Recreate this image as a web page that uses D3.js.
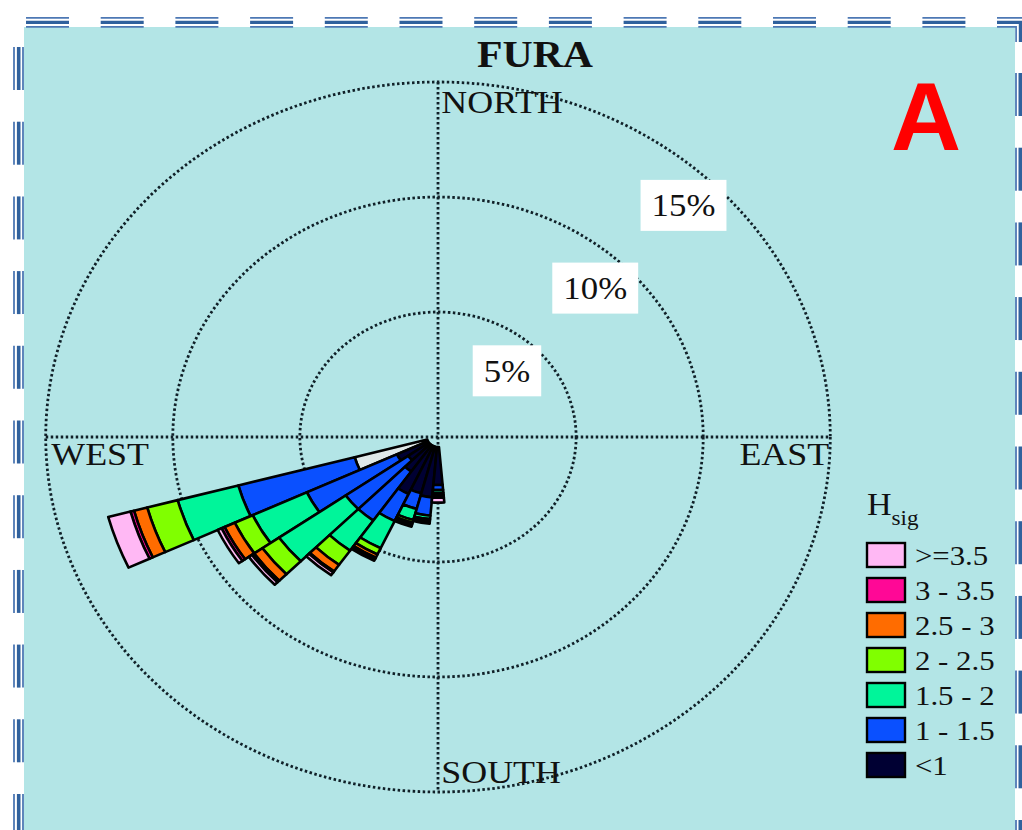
<!DOCTYPE html>
<html>
<head>
<meta charset="utf-8">
<script src="https://cdn.jsdelivr.net/npm/d3@7"></script>
<style>
  body { margin: 0; background: #fff; }
  svg { display: block; font-family: "Liberation Serif", "Times New Roman", serif; }
</style>
</head>
<body>
<svg id="chart" width="1022" height="830"></svg>
<script>
// Hsig rose for FURA, % of occurrence in 10 degree sectors (coming from)
var directions = [250, 240, 230, 220, 210, 200, 190, 180];

// one array per wave height class, innermost class first
var hsLt1   = [2.96, 1.35, 1.00, 1.40, 2.30, 2.10, 2.20, 1.65];
var hs1to15 = [4.74, 3.91, 3.00, 2.60, 1.30, 0.70, 0.80, 0.22];
var hs15to2 = [2.47, 2.35, 3.20, 1.60, 1.30, 0.50, 0.15, 0.13];
var hs2to25 = [1.24, 0.78, 0.80, 0.75, 0.30, 0.12, 0.07, 0.10];
var hs25to3 = [0.54, 0.44, 0.40, 0.35, 0.15, 0.08, 0.05, 0.05];
var hs3to35 = [0.14, 0.13, 0.10, 0.05, 0.05, 0.05, 0.03, 0.05];
var hsGe35  = [0.91, 0.17, 0.15, 0.15, 0.10, 0.05, 0.05, 0.22];

var classNames = ["<1", "1 - 1.5", "1.5 - 2", "2 - 2.5", "2.5 - 3", "3 - 3.5", ">=3.5"];
var classColors = ["#000033", "#0a50ff", "#00f59a", "#80ff00", "#ff6c00", "#ff0896", "#ffb8f4"];
var ringTicks = [5, 10, 15];
var compass = ["NORTH", "EAST", "SOUTH", "WEST"];

var series = [hsLt1, hs1to15, hs15to2, hs2to25, hs25to3, hs3to35, hsGe35];

var svg = d3.select("#chart");
var cx = 438, cy = 437, stretch = 1.105;
var r = d3.scaleLinear().domain([0, 15]).range([10, 355]);

// ---- page frame ----
svg.append("rect").attr("x", 24).attr("y", 27).attr("width", 991).attr("height", 820)
  .attr("fill", "#b3e5e6");

var frame = svg.append("g").attr("class", "frame");
var period = 74.7, dash = 43;
var hLines = [{o: 17.9, w: 1.7, c: "#4d78b4"}, {o: 22.4, w: 3.4, c: "#30619d"}, {o: 26.8, w: 1.7, c: "#4d78b4"}];
d3.range(13).forEach(function(k) {
  var x0 = 26 + period * k;
  hLines.forEach(function(l) {
    frame.append("line").attr("x1", x0).attr("x2", x0 + dash).attr("y1", l.o).attr("y2", l.o)
      .attr("stroke", l.c).attr("stroke-width", l.w);
  });
});
// top right corner piece
hLines.forEach(function(l) {
  var xr = 1025 - (l.o - 17.9);
  frame.append("polyline")
    .attr("points", [[997, l.o], [xr, l.o], [xr, 42]].join(" "))
    .attr("fill", "none").attr("stroke", l.c).attr("stroke-width", l.w);
});
var vLeft = [{o: 14, w: 1.8, c: "#4d78b4"}, {o: 18.7, w: 3.6, c: "#30619d"}, {o: 23, w: 1.8, c: "#4d78b4"}];
d3.range(11).forEach(function(k) {
  var y0 = 47 + period * k;
  vLeft.forEach(function(l) {
    frame.append("line").attr("x1", l.o).attr("x2", l.o).attr("y1", y0).attr("y2", y0 + dash)
      .attr("stroke", l.c).attr("stroke-width", l.w);
  });
  var y1 = 73 + period * k;
  vLeft.forEach(function(l) {
    var xo = 1039 - l.o;
    frame.append("line").attr("x1", xo).attr("x2", xo).attr("y1", y1).attr("y2", y1 + dash)
      .attr("stroke", l.c).attr("stroke-width", l.w);
  });
});

// ---- polar grid ----
var g = svg.append("g").attr("transform", "translate(" + cx + "," + cy + ") scale(" + stretch + ",1)");

var dotted = function(sel) {
  return sel.attr("fill", "none").attr("stroke", "#102028").attr("stroke-width", 2.8)
    .attr("stroke-dasharray", "2.5 2.5").attr("vector-effect", "non-scaling-stroke");
};

g.selectAll(".ring").data(ringTicks).enter().append("circle")
  .attr("class", "ring").attr("r", function(d) { return r(d); }).call(dotted);

g.append("line").attr("x1", -r(15)).attr("x2", r(15)).attr("y1", 0).attr("y2", 0).call(dotted);
g.append("line").attr("x1", 0).attr("x2", 0).attr("y1", -r(15)).attr("y2", r(15) - 2).call(dotted);

// percentage labels in white boxes
var tickAng = 44 * Math.PI / 180;
var tickG = g.selectAll(".tick").data(ringTicks).enter().append("g")
  .attr("class", "tick")
  .attr("transform", function(d) {
    var rr = r(d) - 33;
    return "translate(" + (rr * Math.sin(tickAng) - 1.5) + "," + (-rr * Math.cos(tickAng)) + ")";
  });
tickG.append("rect").attr("fill", "#fff");
tickG.append("text").attr("text-anchor", "middle").attr("dy", "0.35em")
  .attr("font-size", 31.5).attr("fill", "#111").text(function(d) { return d + "%"; });
tickG.each(function() {
  var t = d3.select(this).select("text");
  var w = t.node().getComputedTextLength() + 20;
  d3.select(this).select("rect").attr("x", -w / 2).attr("y", -25.5).attr("width", w).attr("height", 51);
});

// compass labels
var compassPos = {
  NORTH: {x: 3, y: -324, a: "start"},
  EAST: {x: r(15) - 1, y: 28, a: "end"},
  SOUTH: {x: 3, y: 346, a: "start"},
  WEST: {x: -r(15) + 5, y: 28, a: "start"}
};
g.selectAll(".compass").data(compass).enter().append("text")
  .attr("class", "compass")
  .attr("x", function(d) { return compassPos[d].x; })
  .attr("y", function(d) { return compassPos[d].y; })
  .attr("text-anchor", function(d) { return compassPos[d].a; })
  .attr("font-size", 32.5).attr("fill", "#111").text(function(d) { return d; });

// ---- petals ----
var segs = [];
directions.forEach(function(dir, i) {
  var cum = 0;
  series.forEach(function(s, k) {
    segs.push({dir: dir, i: i, k: k, c0: cum, c1: cum + s[i]});
    cum += s[i];
  });
});

var arc = d3.arc()
  .innerRadius(function(d) { return r(d.c0); })
  .outerRadius(function(d) { return r(d.c1); })
  .startAngle(function(d) { return (d.dir - 5) * Math.PI / 180; })
  .endAngle(function(d) { return (d.dir + 5) * Math.PI / 180; });

g.append("g").selectAll("path").data(segs).enter().append("path")
  .attr("d", arc)
  // the innermost part of the first sector shows up pale in the original figure
  .attr("fill", function(d) { return (d.i === 0 && d.k === 0) ? "#dfe8e8" : classColors[d.k]; })
  .attr("stroke", "#000").attr("stroke-width", 2.6)
  .attr("stroke-linejoin", "round")
  .attr("vector-effect", "non-scaling-stroke");

// ---- title and panel letter ----
svg.append("text").attr("transform", "translate(535,67) scale(1.1,1)")
  .attr("text-anchor", "middle").attr("font-size", 38).attr("font-weight", "bold")
  .attr("fill", "#111").text("FURA");

svg.append("text").attr("x", 926).attr("y", 150).attr("text-anchor", "middle")
  .attr("font-family", "'Liberation Sans', Arial, sans-serif").attr("font-weight", "bold")
  .attr("font-size", 97).attr("fill", "#ff0000").text("A");

// ---- legend ----
var leg = svg.append("g");
var ht = leg.append("text").attr("transform", "translate(867,515) scale(1.1,1)")
  .attr("font-size", 31).attr("fill", "#111");
ht.append("tspan").text("H");
ht.append("tspan").attr("font-size", 21).attr("dy", 10).text("sig");

var legOrder = d3.range(classNames.length).reverse();
var items = leg.selectAll(".item").data(legOrder).enter().append("g")
  .attr("class", "item")
  .attr("transform", function(d, i) { return "translate(867," + (543 + i * 35) + ")"; });
items.append("rect").attr("width", 38).attr("height", 24)
  .attr("fill", function(d) { return classColors[d]; })
  .attr("stroke", "#000").attr("stroke-width", 2.4);
items.append("text").attr("transform", "translate(48,22) scale(1.1,1)")
  .attr("font-size", 28).attr("fill", "#111")
  .text(function(d) { return classNames[d]; });
</script>
</body>
</html>
